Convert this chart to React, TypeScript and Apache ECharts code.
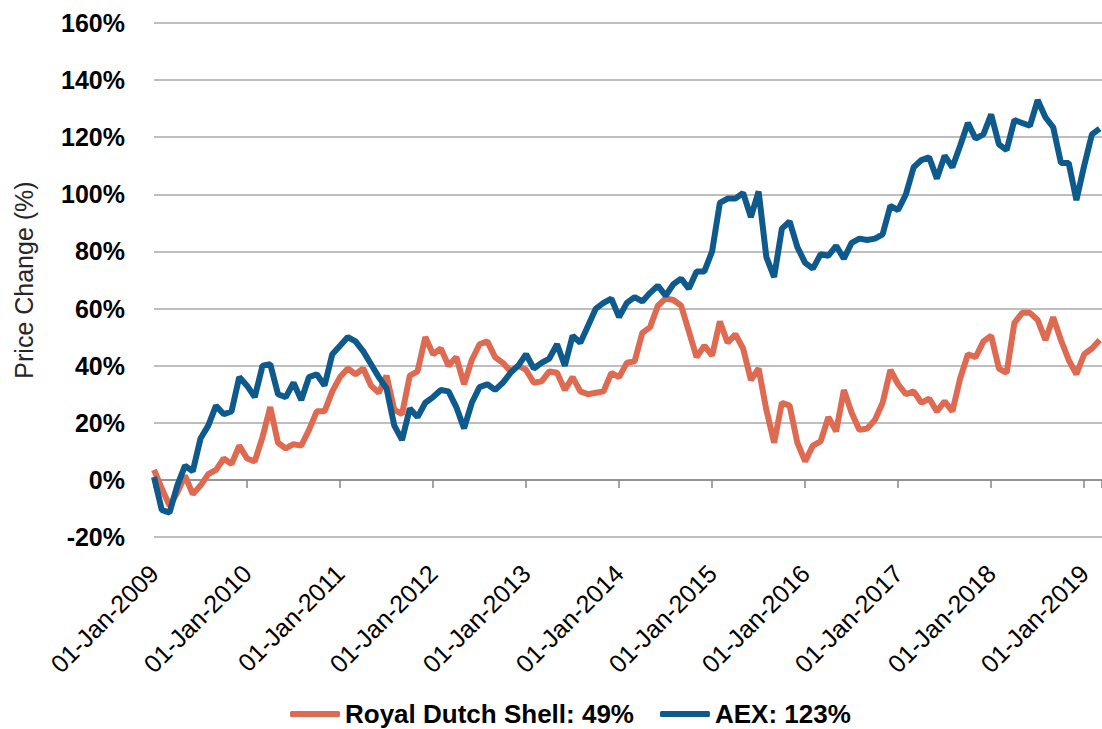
import React, { useEffect, useRef } from "react";
import * as echarts from "echarts";

// Monthly price change (%) since 01-Jan-2009, index 0 = Jan 2009
const shellValues: number[] = [
  3.5, -3, -9, -4.5, 1.5, -5, -2, 2, 3.5, 7.5, 5.5, 12,
  7.5, 6.5, 15, 25.5, 13, 11, 12.5, 12, 17.5, 24, 24, 31,
  36, 39, 37, 39, 33, 30.5, 36.5, 24.5, 23, 36.5, 38, 50,
  44, 46, 40, 43, 33.5, 42, 47.5, 48.5, 43, 41, 38, 40,
  38.5, 34, 34.5, 38, 37.5, 31.5, 36, 31, 30, 30.5, 31, 37.5,
  36, 41, 41.5, 51.5, 53.5, 61, 63.5, 63, 61, 52, 43, 47,
  43.5, 55.5, 48, 51, 46, 35, 39, 24.5, 13, 27, 26, 13,
  6.5, 12, 13.5, 22, 17, 31.5, 23.5, 17.5, 18, 21, 27, 38.5,
  33.5, 30, 31, 27, 28.5, 24, 27.5, 24, 35.5, 44, 43, 48.5,
  50.5, 39, 37.5, 55, 58.5, 58.5, 56, 49, 57, 49, 42, 37,
  44, 46, 49,
];

const aexValues: number[] = [
  1, -10.5, -11.5, -2, 5, 3, 14.5, 19, 26, 23, 24, 36,
  33, 29, 40, 40.5, 30, 29, 34, 28, 36, 37, 33, 44,
  47, 50, 48.5, 45, 40.5, 36, 32, 19, 14, 25, 22, 27,
  29, 31.5, 31, 25.5, 18, 27, 32.5, 33.5, 31.5, 34, 37.5, 40,
  44, 39, 41, 42.5, 47.5, 40, 50.5, 48, 54, 60, 62, 63.5,
  57, 62, 64, 62.5, 65.5, 68, 64.5, 68.5, 70.5, 67, 73, 73,
  80, 97, 98.5, 98.5, 100.5, 92, 101, 78, 71, 88, 90.5, 81.5,
  76, 74, 79, 78.5, 82, 77.5, 83, 84.5, 84, 84.5, 86, 96,
  94.5, 100, 109.5, 112, 113, 105.5, 113.5, 109.5, 117, 125, 119.5, 121,
  128, 117.5, 115.5, 126, 125, 124, 133, 127, 123.5, 111, 111, 98,
  110, 121, 123,
];

const yearLabels: string[] = [
  "01-Jan-2009", "01-Jan-2010", "01-Jan-2011", "01-Jan-2012", "01-Jan-2013",
  "01-Jan-2014", "01-Jan-2015", "01-Jan-2016", "01-Jan-2017", "01-Jan-2018",
  "01-Jan-2019",
];

const seriesNames: string[] = ["Royal Dutch Shell: 49%", "AEX: 123%"];
const seriesColors: string[] = ["#DE6A51", "#0E5A8C"];

const FONT = "'Liberation Sans', Arial, sans-serif";
const X_MAX = 122.3;

function yearFormatter(v: number): string {
  const k = v / 12;
  if (Math.abs(k - Math.round(k)) > 1e-6) return "";
  return yearLabels[Math.round(k)] ?? "";
}

export default function App() {
  const ref = useRef<HTMLDivElement>(null);

  useEffect(() => {
    if (!ref.current) return;
    const chart = echarts.init(ref.current, undefined, { renderer: "svg" });
    chart.setOption({
      animation: false,
      backgroundColor: "#ffffff",
      grid: { left: 154, right: -4, top: 23, bottom: 192, containLabel: false },
      legend: {
        data: seriesNames,
        left: 290,
        top: 701,
        icon: "roundRect",
        itemWidth: 50,
        itemHeight: 6,
        itemGap: 26,
        padding: 0,
        textStyle: {
          fontFamily: FONT,
          fontSize: 26,
          fontWeight: "bold",
          color: "#000000",
          lineHeight: 24,
        },
      },
      xAxis: [
        {
          type: "value",
          min: 0,
          max: X_MAX,
          interval: 12,
          axisLine: { show: true, onZero: true, lineStyle: { color: "#868686", width: 1.5 } },
          axisTick: { show: true, length: 8, lineStyle: { color: "#868686", width: 1.5 } },
          axisLabel: { show: false },
          splitLine: { show: false },
        },
        {
          type: "value",
          min: 0,
          max: X_MAX,
          interval: 12,
          position: "bottom",
          axisLine: { show: false, onZero: false },
          axisTick: { show: false },
          splitLine: { show: false },
          axisLabel: {
            show: true,
            rotate: 45,
            margin: 32,
            fontFamily: FONT,
            fontSize: 25,
            color: "#000000",
            formatter: yearFormatter,
            showMaxLabel: false,
          },
        },
      ],
      yAxis: {
        type: "value",
        min: -20,
        max: 160,
        interval: 20,
        name: "Price Change (%)",
        nameLocation: "middle",
        nameGap: 118,
        nameTextStyle: { fontFamily: FONT, fontSize: 25, color: "#262626" },
        axisLine: { show: false },
        axisTick: { show: false },
        axisLabel: {
          formatter: "{value}%",
          fontFamily: FONT,
          fontSize: 25,
          fontWeight: "bold",
          color: "#000000",
          margin: 29,
        },
        splitLine: { show: true, lineStyle: { color: "#A9A9A9", width: 1.5 } },
      },
      series: [
        {
          name: seriesNames[0],
          type: "line",
          xAxisIndex: 0,
          data: shellValues.map((v, i) => [i, v]),
          showSymbol: false,
          symbol: "none",
          color: seriesColors[0],
          lineStyle: { width: 6, color: seriesColors[0] },
        },
        {
          name: seriesNames[1],
          type: "line",
          xAxisIndex: 0,
          data: aexValues.map((v, i) => [i, v]),
          showSymbol: false,
          symbol: "none",
          color: seriesColors[1],
          lineStyle: { width: 6, color: seriesColors[1] },
        },
      ],
    });
    return () => chart.dispose();
  }, []);

  return (
    <div
      ref={ref}
      style={{ position: "absolute", left: 0, top: 0, width: 1102, height: 729, background: "#fff" }}
    />
  );
}
